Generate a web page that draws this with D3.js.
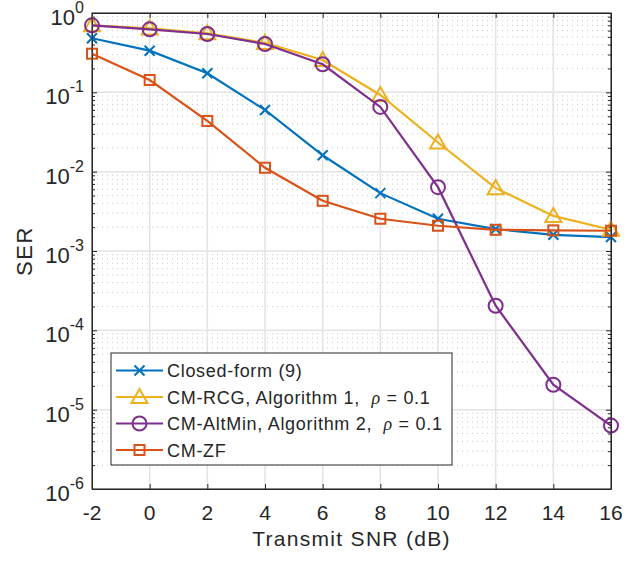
<!DOCTYPE html>
<html>
<head>
<meta charset="utf-8">
<script src="https://cdn.jsdelivr.net/npm/d3@7"></script>
<style>
  body { margin: 0; background: #fff; }
  text { font-family: "Liberation Sans", Arial, sans-serif; fill: #262626; }
</style>
</head>
<body>
<svg id="chart" width="636" height="563"></svg>
<script>
// data
var snr = [-2, 0, 2, 4, 6, 8, 10, 12, 14, 16];
var closedForm = [0.48, 0.335, 0.174, 0.06, 0.0161, 0.00536, 0.00255, 0.00189, 0.0016, 0.0015];
var cmRCG = [0.70, 0.64, 0.555, 0.42, 0.256, 0.0927, 0.0233, 0.0062, 0.00277, 0.00185];
var cmAltMin = [0.70, 0.623, 0.544, 0.407, 0.226, 0.0655, 0.00638, 0.000204, 0.0000206, 0.0000063];
var cmZF = [0.307, 0.143, 0.0436, 0.0112, 0.00429, 0.00255, 0.00208, 0.00185, 0.00182, 0.0018];
var xTicks = [-2, 0, 2, 4, 6, 8, 10, 12, 14, 16];
var yExps = [0, -1, -2, -3, -4, -5, -6];

var series = [
    {name: "Closed-form (9)", values: closedForm, color: "#0072BD", marker: "x"},
    {name: "CM-RCG, Algorithm 1,", rho: true, values: cmRCG, color: "#EDB120", marker: "tri"},
    {name: "CM-AltMin, Algorithm 2,", rho: true, values: cmAltMin, color: "#7E2F8E", marker: "circle"},
    {name: "CM-ZF", values: cmZF, color: "#D95319", marker: "square"}
];

// note: "top" is taken by window.top, so use other names
var pL = 92, pR = 611, pT = 13, pB = 489;
var svg = d3.select("#chart");

var x = d3.scaleLinear().domain([-2, 16]).range([pL, pR]);
var y = d3.scaleLog().domain([1e-6, 1]).range([pB, pT]);

// minor values on the log axis
var minorVals = [];
for (var e = -6; e < 0; e++) {
    for (var k = 2; k <= 9; k++) minorVals.push(k * Math.pow(10, e));
}

var grid = svg.append("g");
// minor horizontal grid, dotted
grid.selectAll(".minor").data(minorVals).enter().append("line")
    .attr("x1", pL).attr("x2", pR)
    .attr("y1", function(d) { return y(d); })
    .attr("y2", function(d) { return y(d); })
    .attr("stroke", "#c8c8c8")
    .attr("stroke-dasharray", "1,4");
// major grid
grid.selectAll(".hmaj").data(yExps).enter().append("line")
    .attr("x1", pL).attr("x2", pR)
    .attr("y1", function(d) { return y(Math.pow(10, d)); })
    .attr("y2", function(d) { return y(Math.pow(10, d)); })
    .attr("stroke", "#e3e3e3").attr("stroke-width", 1.5);
grid.selectAll(".vmaj").data(xTicks).enter().append("line")
    .attr("y1", pT).attr("y2", pB)
    .attr("x1", function(d) { return x(d); })
    .attr("x2", function(d) { return x(d); })
    .attr("stroke", "#e3e3e3").attr("stroke-width", 1.5);

// axes with inward ticks
var axisColor = "#262626";
function styleAxis(g) {
    g.selectAll("path").attr("stroke", axisColor);
    g.selectAll("line").attr("stroke", axisColor);
    g.selectAll("text").remove();
}
svg.append("g").attr("transform", "translate(0," + pB + ")")
    .call(d3.axisBottom(x).tickValues(xTicks).tickSize(-5).tickSizeOuter(0)).call(styleAxis);
svg.append("g").attr("transform", "translate(0," + pT + ")")
    .call(d3.axisTop(x).tickValues(xTicks).tickSize(-5).tickSizeOuter(0)).call(styleAxis);
var majVals = yExps.map(function(d) { return Math.pow(10, d); });
svg.append("g").attr("transform", "translate(" + pL + ",0)")
    .call(d3.axisLeft(y).tickValues(majVals).tickSize(-5).tickSizeOuter(0)).call(styleAxis);
svg.append("g").attr("transform", "translate(" + pR + ",0)")
    .call(d3.axisRight(y).tickValues(majVals).tickSize(-5).tickSizeOuter(0)).call(styleAxis);
svg.append("g").attr("transform", "translate(" + pL + ",0)")
    .call(d3.axisLeft(y).tickValues(minorVals).tickSize(-3).tickSizeOuter(0)).call(styleAxis)
    .select("path").remove();
svg.append("g").attr("transform", "translate(" + pR + ",0)")
    .call(d3.axisRight(y).tickValues(minorVals).tickSize(-3).tickSizeOuter(0)).call(styleAxis)
    .select("path").remove();

// tick labels
svg.selectAll(".xlab").data(xTicks).enter().append("text")
    .attr("x", function(d) { return x(d); })
    .attr("y", 520)
    .attr("text-anchor", "middle")
    .style("font-size", "21px")
    .text(function(d) { return d; });

var yl = svg.selectAll(".ylab").data(yExps).enter().append("text")
    .attr("x", 84)
    .attr("y", function(d) { return y(Math.pow(10, d)) + 12; })
    .attr("text-anchor", "end")
    .style("font-size", "22px");
yl.append("tspan").text("10");
yl.append("tspan").attr("dy", -12).style("font-size", "16px")
    .text(function(d) { return d; });

// axis titles
svg.append("text").attr("x", (pL + pR) / 2).attr("y", 545.5)
    .attr("text-anchor", "middle").style("font-size", "21px")
    .style("letter-spacing", "1.3px")
    .text("Transmit SNR (dB)");
svg.append("text")
    .attr("transform", "translate(32," + (pT + pB) / 2 + ") rotate(-90)")
    .attr("text-anchor", "middle").style("font-size", "22px")
    .style("letter-spacing", "1.5px")
    .text("SER");

// markers
function drawMarker(g, type, color) {
    if (type == "x") {
        g.append("path").attr("d", "M-5,-5L5,5M-5,5L5,-5")
            .attr("stroke", color).attr("stroke-width", 2);
    } else if (type == "tri") {
        g.append("path").attr("d", "M0,-8L8,6L-8,6Z")
            .attr("fill", "none").attr("stroke", color).attr("stroke-width", 2);
    } else if (type == "circle") {
        g.append("circle").attr("r", 7)
            .attr("fill", "none").attr("stroke", color).attr("stroke-width", 2);
    } else {
        g.append("rect").attr("x", -5).attr("y", -5).attr("width", 10).attr("height", 10)
            .attr("fill", "none").attr("stroke", color).attr("stroke-width", 2);
    }
}

var line = d3.line()
    .x(function(d, i) { return x(snr[i]); })
    .y(function(d) { return y(d); });

series.forEach(function(s) {
    svg.append("path").datum(s.values)
        .attr("d", line)
        .attr("fill", "none")
        .attr("stroke", s.color)
        .attr("stroke-width", 2.2);
    s.values.forEach(function(v, i) {
        var g = svg.append("g").attr("transform", "translate(" + x(snr[i]) + "," + y(v) + ")");
        drawMarker(g, s.marker, s.color);
    });
});

// axes frame on top
svg.append("rect").attr("x", pL).attr("y", pT)
    .attr("width", pR - pL).attr("height", pB - pT)
    .attr("fill", "none").attr("stroke", axisColor).attr("stroke-width", 1);

// legend
var legend = svg.append("g");
legend.append("rect").attr("x", 111).attr("y", 353).attr("width", 341).attr("height", 112)
    .attr("fill", "#fff").attr("stroke", axisColor).attr("stroke-width", 1);
series.forEach(function(s, i) {
    var ry = 370.5 + i * 26.5;
    legend.append("line").attr("x1", 116).attr("x2", 163)
        .attr("y1", ry).attr("y2", ry)
        .attr("stroke", s.color).attr("stroke-width", 2.2);
    drawMarker(legend.append("g").attr("transform", "translate(139.5," + ry + ")"), s.marker, s.color);
    var t = legend.append("text").attr("x", 167).attr("y", ry + 6.5)
        .style("font-size", "18px").style("letter-spacing", "0.7px").text(s.name);
    if (s.rho) {
        t.append("tspan").text("\u00a0\u00a0");
        t.append("tspan").style("font-style", "italic").attr("font-family", "Liberation Serif, serif").text("\u03c1");
        t.append("tspan").text(" = 0.1");
    }
});
</script>
</body>
</html>
